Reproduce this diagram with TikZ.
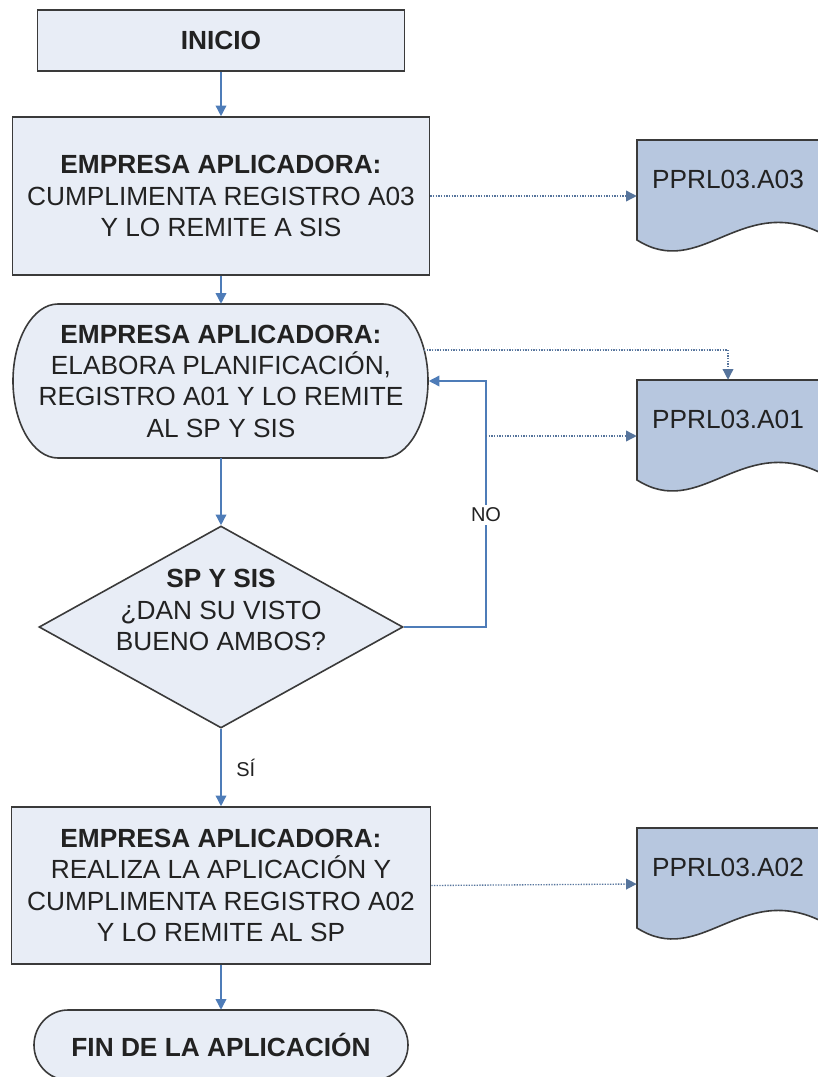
\documentclass[tikz,border=0pt]{standalone}
\usepackage{fontspec}
\setmainfont{Liberation Sans}
\usetikzlibrary{arrows.meta,shapes.geometric}
\definecolor{boxfill}{HTML}{E8EDF6}
\definecolor{docfill}{HTML}{B7C7DF}
\definecolor{edgegray}{HTML}{3A3A3A}
\definecolor{flowblue}{HTML}{4E7CB8}
\definecolor{linkblue}{HTML}{56749C}
\definecolor{textgray}{HTML}{222222}
\tikzset{
  box/.style={draw=edgegray, line width=1.2pt, fill=boxfill, align=center, inner sep=0pt,
    text=textgray, font=\fontsize{19.7}{23.5}\selectfont},
  plain/.style={align=center, inner sep=0pt, text=textgray, font=\fontsize{19.7}{23.5}\selectfont},
  stadium/.style={draw=edgegray, line width=1.2pt, fill=boxfill},
  decide/.style={diamond, draw=edgegray, line width=1.2pt, fill=boxfill, inner sep=0pt,
    minimum width=273pt, minimum height=151.5pt},
  docshape/.style={draw=edgegray, line width=1.2pt, fill=docfill},
  docnode/.style={inner sep=0pt, minimum width=136.5pt, minimum height=84pt, text depth=25.5pt,
    text=textgray, font=\fontsize{19.7}{23.5}\selectfont},
  flow/.style={draw=flowblue, line width=1.1pt, -{Triangle[length=8pt,width=8pt]}},
  link/.style={draw=linkblue, line width=1pt, densely dotted, -{Triangle[length=8pt,width=8pt]}},
  lbl/.style={font=\fontsize{15}{18}\selectfont, text=textgray, inner sep=2pt}
}
\begin{document}
\begin{tikzpicture}[x=0.75pt,y=-0.75pt]
  \useasboundingbox (0,0) rectangle (817,1077);
  % outlines drawn first
  \draw[stadium] (58,304) -- (383,304) arc[start angle=90,end angle=-90,x radius=33.75pt,y radius=57.75pt]
    -- (58,458) arc[start angle=270,end angle=90,x radius=33.75pt,y radius=57.75pt] -- cycle;
  \draw[stadium] (68,1010) -- (374,1010) arc[start angle=90,end angle=-90,x radius=25.5pt,y radius=26.25pt]
    -- (68,1080) arc[start angle=270,end angle=90,x radius=25.5pt,y radius=26.25pt] -- cycle;
  \draw[docshape] (637,140) -- (819,140) -- (819,232) .. controls (740,195) and (700,280) .. (637,240) -- cycle;
  \draw[docshape] (637,380) -- (819,380) -- (819,472) .. controls (740,435) and (700,520) .. (637,480) -- cycle;
  \draw[docshape] (637,828) -- (819,828) -- (819,920) .. controls (740,883) and (700,968) .. (637,928) -- cycle;

  \node[box, minimum width=275.25pt, minimum height=45.75pt] (inicio) at (221,40.5) {\textbf{INICIO}};
  \node[box, minimum width=312.75pt, minimum height=118.5pt] (cumple) at (221,196)
    {\textbf{EMPRESA APLICADORA:}\\CUMPLIMENTA REGISTRO A03\\Y LO REMITE A SIS};
  \node[plain, minimum width=311.25pt, minimum height=115.5pt] (planif) at (221,381)
    {\textbf{EMPRESA APLICADORA:}\\ELABORA PLANIFICACIÓN,\\REGISTRO A01 Y LO REMITE\\AL SP Y SIS};
  \node[decide] (dec) at (221,627) {};
  \node[plain] (dectxt) at (221,610) {\textbf{SP Y SIS}\\¿DAN SU VISTO\\BUENO AMBOS?};
  \node[box, minimum width=314.25pt, minimum height=117.75pt] (aplica) at (221,885.5)
    {\textbf{EMPRESA APLICADORA:}\\REALIZA LA APLICACIÓN Y\\CUMPLIMENTA REGISTRO A02\\Y LO REMITE AL SP};
  \node[plain, minimum width=280.5pt, minimum height=52.5pt] (fin) at (221,1045) {\textbf{FIN DE LA APLICACIÓN}};
  \node[docnode] (doc03) at (728,196) {PPRL03.A03};
  \node[docnode] (doc01) at (728,436) {PPRL03.A01};
  \node[docnode] (doc02) at (728,884) {PPRL03.A02};

  \coordinate (loopb) at (486,627);
  \coordinate (loopt) at (486,381);
  \coordinate (plout) at (424,350);
  \coordinate (nodot) at (486,436);

  \draw[flow] (inicio.south) -- (cumple.north);
  \draw[flow] (cumple.south) -- (planif.north);
  \draw[flow] (planif.south) -- (dec.north);
  \draw[flow] (dec.south) -- node[lbl, right, xshift=9pt] {SÍ} (aplica.north);
  \draw[flow] (aplica.south) -- (fin.north);
  \draw[flow] (dec.east) -- (loopb) -- node[lbl, pos=0.455, fill=white] {NO} (loopt) -- (planif.east);
  \draw[link] (cumple.east) -- (doc03.west);
  \draw[link] (plout) -| (doc01.north);
  \draw[link] (nodot) -- (doc01.west);
  \draw[link] (aplica.east) -- (doc02.west);
\end{tikzpicture}
\end{document}
